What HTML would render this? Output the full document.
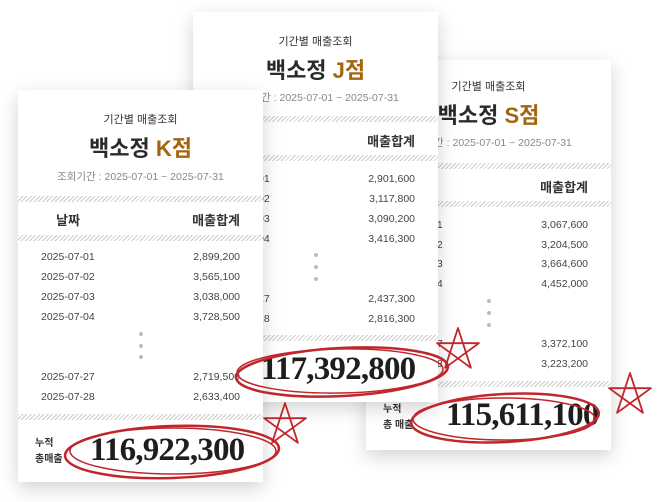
<!DOCTYPE html>
<html><head><meta charset="utf-8">
<style>
html,body{margin:0;padding:0;background:#fff;}
body{width:658px;height:502px;position:relative;overflow:hidden;font-family:"Liberation Sans","Noto Sans CJK KR",sans-serif;color:#333;}
.card{position:absolute;width:245px;height:390px;background:#fff;box-shadow:0 6px 18px rgba(0,0,0,0.18);}
.card div{position:absolute;white-space:nowrap;}
.t1{left:0;right:0;text-align:center;font-size:11px;color:#333;}
.t2{left:0;right:0;text-align:center;font-size:22px;font-weight:bold;color:#2b2b2b;}
.t2 span{color:#a4650f;}
.t3{left:0;right:0;text-align:center;font-size:10.5px;color:#888;}
.band{left:0;right:0;height:6px;background:repeating-linear-gradient(135deg,#ccc 0 1px,#fff 1px 3px);}
.hd{font-size:13px;font-weight:bold;color:#333;}
.d{left:23px;font-size:10.5px;color:#444;}
.a{right:23px;font-size:10.5px;color:#444;text-align:right;}
.dot{width:4px;height:4px;border-radius:2px;background:#bbb;left:121px;}
.lab{left:17px;font-size:10px;font-weight:bold;color:#333;line-height:16px;}
.big{font-family:"Liberation Serif",serif;font-weight:bold;font-size:33px;color:#1e1e1e;letter-spacing:-0.8px;}
svg{position:absolute;left:0;top:0;}
</style></head><body>

<div class="card" style="left:366px;top:60px;">
  <div class="t1" style="top:18px">기간별 매출조회</div>
  <div class="t2" style="top:38px">백소정 <span>S점</span></div>
  <div class="t3" style="top:75px">조회기간 : 2025-07-01 ~ 2025-07-31</div>
  <div class="band" style="top:103px"></div>
  <div class="hd" style="left:32px;top:117px">날짜</div>
  <div class="hd" style="right:23px;top:117px">매출합계</div>
  <div class="band" style="top:141px"></div>
  <div class="d" style="top:159px">2025-07-01</div><div class="a" style="top:159px">3,067,600</div>
  <div class="d" style="top:179px">2025-07-02</div><div class="a" style="top:179px">3,204,500</div>
  <div class="d" style="top:198px">2025-07-03</div><div class="a" style="top:198px">3,664,600</div>
  <div class="d" style="top:218px">2025-07-04</div><div class="a" style="top:218px">4,452,000</div>
  <div class="dot" style="top:239px"></div><div class="dot" style="top:251px"></div><div class="dot" style="top:263px"></div>
  <div class="d" style="top:278px">2025-07-27</div><div class="a" style="top:278px">3,372,100</div>
  <div class="d" style="top:298px">2025-07-28</div><div class="a" style="top:298px">3,223,200</div>
  <div class="band" style="top:321px"></div>
  <div class="lab" style="top:342px">누적<br>총 매출</div>
  <div class="big" style="left:80px;top:337px">115,611,100</div>
</div>

<div class="card" style="left:193px;top:12px;">
  <div class="t1" style="top:21px">기간별 매출조회</div>
  <div class="t2" style="top:41px">백소정 <span>J점</span></div>
  <div class="t3" style="top:78px">조회기간 : 2025-07-01 ~ 2025-07-31</div>
  <div class="band" style="top:104px"></div>
  <div class="hd" style="left:32px;top:119px">날짜</div>
  <div class="hd" style="right:23px;top:119px">매출합계</div>
  <div class="band" style="top:143px"></div>
  <div class="d" style="top:161px">2025-07-01</div><div class="a" style="top:161px">2,901,600</div>
  <div class="d" style="top:181px">2025-07-02</div><div class="a" style="top:181px">3,117,800</div>
  <div class="d" style="top:201px">2025-07-03</div><div class="a" style="top:201px">3,090,200</div>
  <div class="d" style="top:221px">2025-07-04</div><div class="a" style="top:221px">3,416,300</div>
  <div class="dot" style="top:241px"></div><div class="dot" style="top:253px"></div><div class="dot" style="top:265px"></div>
  <div class="d" style="top:281px">2025-07-27</div><div class="a" style="top:281px">2,437,300</div>
  <div class="d" style="top:301px">2025-07-28</div><div class="a" style="top:301px">2,816,300</div>
  <div class="band" style="top:323px"></div>
  <div class="lab" style="top:344px">누적<br>총 매출</div>
  <div class="big" style="left:68px;top:339px">117,392,800</div>
</div>

<div class="card" style="left:18px;top:90px;height:392px;">
  <div class="t1" style="top:21px">기간별 매출조회</div>
  <div class="t2" style="top:41px">백소정 <span>K점</span></div>
  <div class="t3" style="top:79px">조회기간 : 2025-07-01 ~ 2025-07-31</div>
  <div class="band" style="top:106px"></div>
  <div class="hd" style="left:38px;top:120px">날짜</div>
  <div class="hd" style="right:23px;top:120px">매출합계</div>
  <div class="band" style="top:145px"></div>
  <div class="d" style="top:161px">2025-07-01</div><div class="a" style="top:161px">2,899,200</div>
  <div class="d" style="top:181px">2025-07-02</div><div class="a" style="top:181px">3,565,100</div>
  <div class="d" style="top:201px">2025-07-03</div><div class="a" style="top:201px">3,038,000</div>
  <div class="d" style="top:221px">2025-07-04</div><div class="a" style="top:221px">3,728,500</div>
  <div class="dot" style="top:242px"></div><div class="dot" style="top:254px"></div><div class="dot" style="top:265px"></div>
  <div class="d" style="top:281px">2025-07-27</div><div class="a" style="top:281px">2,719,500</div>
  <div class="d" style="top:301px">2025-07-28</div><div class="a" style="top:301px">2,633,400</div>
  <div class="band" style="top:324px"></div>
  <div class="lab" style="top:346px">누적<br>총매출</div>
  <div class="big" style="left:72px;top:342px">116,922,300</div>
</div>

<svg width="658" height="502" fill="none" stroke="#c0262b" stroke-width="2.5" stroke-linecap="round" stroke-linejoin="round">
  <g>
    <ellipse cx="342" cy="372" rx="106" ry="24" transform="rotate(-3 342 372)"/>
    <ellipse cx="340" cy="371" rx="103" ry="22" transform="rotate(-1 340 371)" stroke-width="1.5"/>
  </g>
  <polyline points="458,328 470.9,367.8 437.1,343.2 478.9,343.2 445.1,367.8 458,328" stroke-width="1.8"/>
  <g>
    <ellipse cx="172" cy="452" rx="107" ry="26" transform="rotate(-2 172 452)"/>
    <ellipse cx="173" cy="451" rx="103" ry="23" stroke-width="1.5"/>
  </g>
  <polyline points="285,403 297.9,442.8 264.1,418.2 305.9,418.2 272.1,442.8 285,403" stroke-width="1.8"/>
  <g>
    <ellipse cx="505" cy="418" rx="94" ry="24" transform="rotate(-3 505 418)"/>
    <ellipse cx="504" cy="419" rx="91" ry="21" stroke-width="1.5"/>
  </g>
  <polyline points="630,373 642.9,412.8 609.1,388.2 650.9,388.2 617.1,412.8 630,373" stroke-width="1.8"/>
</svg>
</body></html>
